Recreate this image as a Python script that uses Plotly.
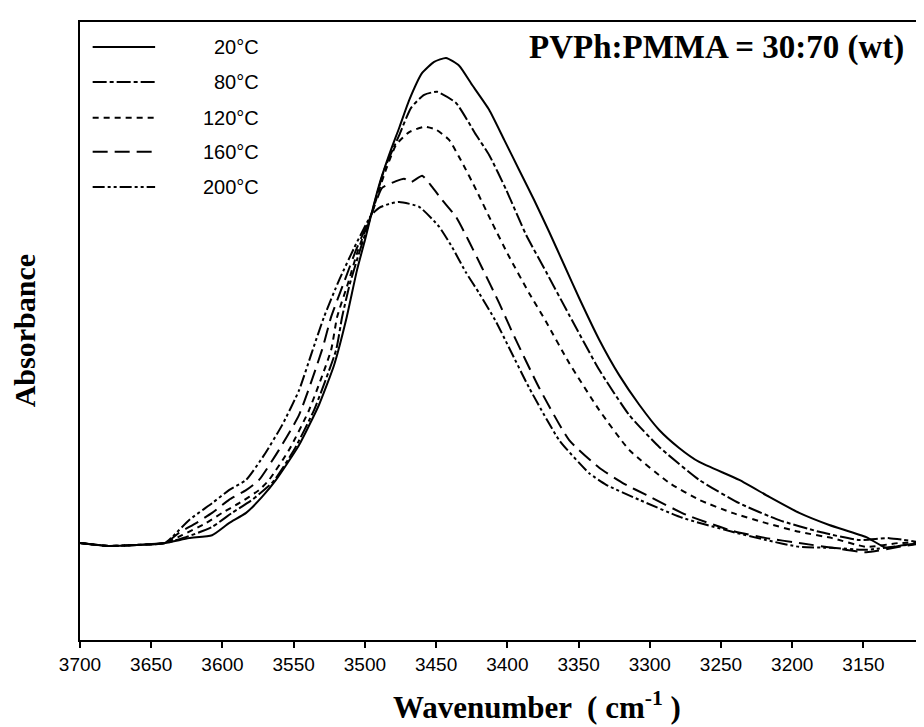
import plotly.graph_objects as go

# ---- data (wavenumber in cm-1, absorbance in arbitrary units) ----
wn_20 = [3700, 3680.3, 3660.0, 3640.3, 3623.5, 3607.3, 3595.4, 3583.4, 3572.2, 3562.4, 3546.2, 3532.2,
         3521.6, 3513.2, 3505.5, 3499.9, 3495.6, 3490.0, 3483.0, 3475.9, 3468.9, 3459.8, 3451.4, 3443.0,
         3433.8, 3424.7, 3412.8, 3402.2, 3391.7, 3381.2, 3370.6, 3360.1, 3349.6, 3335.5, 3321.5, 3307.4,
         3293.4, 3279.4, 3265.3, 3237.2, 3216.1, 3195.1, 3174.0, 3148.0, 3134.0, 3121.3, 3108.0]
ab_20 = [0.000, -0.006, -0.004, 0.000, 0.010, 0.016, 0.041, 0.062, 0.095, 0.130, 0.202, 0.285,
         0.367, 0.460, 0.563, 0.625, 0.676, 0.738, 0.800, 0.856, 0.913, 0.969, 0.992, 1.000,
         0.984, 0.944, 0.893, 0.831, 0.769, 0.707, 0.641, 0.573, 0.505, 0.419, 0.346, 0.285,
         0.233, 0.196, 0.167, 0.130, 0.095, 0.062, 0.037, 0.012, -0.010, -0.004, 0.000]

wn_80 = [3700, 3680.3, 3660.0, 3640.3, 3625.6, 3607.3, 3593.3, 3579.2, 3564.5, 3549.7, 3535.7, 3520.2,
         3516.0, 3510.4, 3503.4, 3495.6, 3486.5, 3475.9, 3467.6, 3458.4, 3449.3, 3436.0, 3421.9, 3412.8,
         3400.8, 3386.8, 3372.8, 3356.6, 3335.5, 3314.5, 3293.4, 3265.3, 3237.2, 3209.1, 3181.0, 3152.9,
         3131.9, 3108.0]
ab_80 = [0.000, -0.006, -0.004, 0.000, 0.012, 0.033, 0.062, 0.089, 0.126, 0.192, 0.274, 0.398,
         0.466, 0.536, 0.604, 0.676, 0.769, 0.841, 0.897, 0.924, 0.930, 0.907, 0.841, 0.800,
         0.728, 0.635, 0.559, 0.470, 0.357, 0.264, 0.198, 0.130, 0.082, 0.047, 0.023, 0.006,
         0.010, 0.000]

wn_120 = [3700, 3680.3, 3660.0, 3640.3, 3628.4, 3611.5, 3600.3, 3588.3, 3574.3, 3567.3, 3553.2, 3539.2,
          3523.7, 3519.5, 3511.8, 3504.8, 3495.6, 3486.5, 3478.1, 3468.9, 3458.4, 3450.0, 3440.9, 3431.7,
          3421.9, 3410.7, 3398.7, 3384.7, 3372.8, 3356.6, 3335.5, 3314.5, 3286.4, 3265.3, 3242.1, 3218.3,
          3195.1, 3171.9, 3148.0, 3124.9, 3108.0]
ab_120 = [0.000, -0.006, -0.004, 0.000, 0.016, 0.041, 0.062, 0.082, 0.109, 0.130, 0.192, 0.274,
          0.398, 0.466, 0.536, 0.604, 0.676, 0.759, 0.821, 0.847, 0.858, 0.852, 0.831, 0.784,
          0.728, 0.660, 0.590, 0.515, 0.456, 0.371, 0.274, 0.192, 0.124, 0.089, 0.062, 0.041,
          0.023, 0.010, -0.008, 0.000, 0.000]

wn_160 = [3700, 3680.3, 3660.0, 3640.3, 3630.5, 3618.5, 3607.3, 3595.4, 3583.4, 3574.3, 3560.3, 3546.2,
          3530.1, 3523.7, 3514.6, 3506.2, 3495.6, 3487.9, 3478.1, 3472.5, 3467.6, 3459.8, 3452.8, 3445.8,
          3436.0, 3426.8, 3417.7, 3405.8, 3396.6, 3377.7, 3356.6, 3335.5, 3318.0, 3302.5, 3274.4, 3242.1,
          3218.3, 3195.1, 3171.9, 3148.0, 3124.9, 3108.0]
ab_160 = [0.000, -0.006, -0.004, 0.000, 0.021, 0.041, 0.062, 0.089, 0.109, 0.130, 0.192, 0.264,
          0.398, 0.466, 0.538, 0.604, 0.676, 0.732, 0.746, 0.751, 0.744, 0.757, 0.734, 0.707,
          0.672, 0.621, 0.567, 0.495, 0.435, 0.320, 0.212, 0.155, 0.122, 0.099, 0.058, 0.025,
          0.010, 0.000, -0.010, -0.019, -0.008, 0.000]

wn_200 = [3700, 3680.3, 3660.0, 3640.3, 3635.4, 3623.5, 3607.3, 3595.4, 3583.4, 3570.8, 3558.1, 3546.2,
          3537.1, 3528.7, 3518.1, 3507.6, 3500.6, 3495.6, 3490.0, 3483.0, 3475.9, 3461.9, 3447.9, 3438.8,
          3428.9, 3419.8, 3407.9, 3398.7, 3384.7, 3363.6, 3342.6, 3330.6, 3307.4, 3277.2, 3242.1, 3218.3,
          3195.1, 3171.9, 3148.0, 3124.9, 3108.0]
ab_200 = [0.000, -0.006, -0.004, 0.000, 0.012, 0.047, 0.082, 0.109, 0.130, 0.181, 0.243, 0.315,
          0.394, 0.466, 0.542, 0.608, 0.649, 0.676, 0.691, 0.699, 0.703, 0.693, 0.652, 0.610,
          0.557, 0.515, 0.456, 0.402, 0.320, 0.212, 0.144, 0.120, 0.089, 0.052, 0.023, 0.006,
          -0.008, -0.010, -0.014, -0.006, 0.000]

labels = ["20\u00b0C", "80\u00b0C", "120\u00b0C", "160\u00b0C", "200\u00b0C"]
tick_vals = [3700, 3650, 3600, 3550, 3500, 3450, 3400, 3350, 3300, 3250, 3200, 3150]
title_text = "PVPh:PMMA = 30:70 (wt)"

# ---- styles ----
series = [(wn_20, ab_20), (wn_80, ab_80), (wn_120, ab_120), (wn_160, ab_160), (wn_200, ab_200)]
dashes = ["solid", "14px,3px,4px,3px", "6px,5px", "15px,7px", "12px,3px,3px,3px,3px,3px"]
legend_y = [0.9595, 0.903, 0.845, 0.790, 0.733]

fig = go.Figure()
for (x, y), d, lab in zip(series, dashes, labels):
    fig.add_trace(go.Scatter(x=x, y=y, mode="lines", name=lab,
                             line=dict(color="black", width=2, dash=d, shape="spline", smoothing=0.5),
                             showlegend=False))

for d, lab, ly in zip(dashes, labels, legend_y):
    fig.add_shape(type="line", xref="paper", yref="paper", x0=0.015, x1=0.089, y0=ly, y1=ly,
                  line=dict(color="black", width=2, dash=d))
    fig.add_annotation(xref="paper", yref="paper", x=0.2145, y=ly, text=lab, showarrow=False,
                       xanchor="right", yanchor="middle",
                       font=dict(family="Liberation Sans, Arial", size=20, color="black"))

fig.add_annotation(xref="paper", yref="paper", x=0.5296, y=0.9595, text="<b>" + title_text + "</b>",
                   showarrow=False, xanchor="left", yanchor="middle",
                   font=dict(family="Liberation Serif, Times New Roman", size=33, color="black"))

fig.add_annotation(xref="paper", yref="paper", x=0.5415, y=-0.106,
                   text="<b>Wavenumber  ( cm<sup>-1</sup> )</b>", showarrow=False,
                   xanchor="center", yanchor="middle",
                   font=dict(family="Liberation Serif, Times New Roman", size=31, color="black"))

fig.add_annotation(xref="paper", yref="paper", x=-0.066, y=0.50, text="<b>Absorbance</b>",
                   showarrow=False, textangle=-90, xanchor="center", yanchor="middle",
                   font=dict(family="Liberation Serif, Times New Roman", size=30, color="black"))

fig.update_xaxes(range=[3700, 3107.5], tickvals=tick_vals, ticktext=[str(v) for v in tick_vals],
                 ticks="outside", ticklen=6, tickwidth=1.5, tickcolor="black",
                 showline=True, linecolor="black", linewidth=2, mirror=True,
                 showgrid=False, zeroline=False,
                 tickfont=dict(family="Liberation Sans, Arial", size=19, color="black"))
fig.update_yaxes(range=[-0.2, 1.074], showticklabels=False, ticks="",
                 showline=True, linecolor="black", linewidth=2,
                 showgrid=False, zeroline=False)

# the page body adds an 8px margin, so the figure is 8px smaller than the window
fig.update_layout(width=916, height=719, margin=dict(l=72, r=0, t=14, b=87),
                  plot_bgcolor="white", paper_bgcolor="white", showlegend=False)

fig.write_html("out.html")
